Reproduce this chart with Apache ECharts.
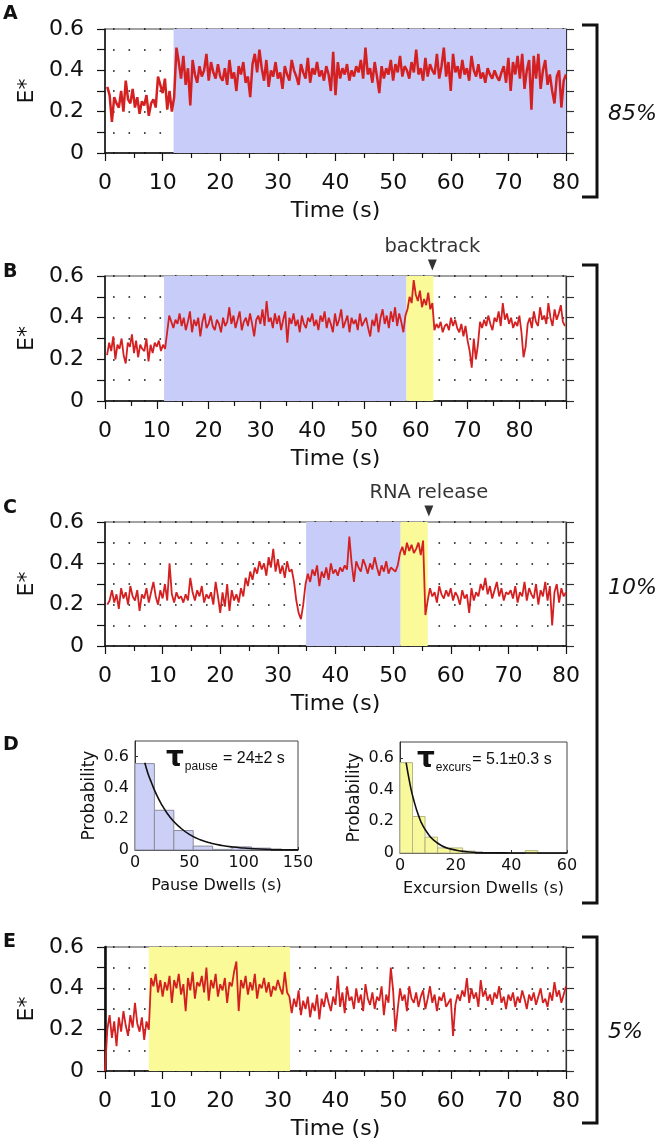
<!DOCTYPE html>
<html><head><meta charset="utf-8">
<script src="https://cdn.jsdelivr.net/npm/echarts@6/dist/echarts.min.js"></script>
<style>html,body{margin:0;padding:0;background:#fff}#c{width:660px;height:1146px}</style>
</head><body><div id="c"></div>
<script>
// ---------- DATA ----------
const timeStep = 0.4;
const aStart = 0.4, bStart = 0.4, cStart = 0.4, eStart = 0;
const aValues = [
.32,.28,.15,.27,.24,.22,.30,.20,.35,.26,.24,.31,.22,.27,.19,.25,.23,.28,.18,.24,.26,.22,.37,.33,.29,
.36,.21,.30,.20,.27,.51,.44,.36,.47,.33,.41,.23,.45,.38,.34,.42,.37,.40,.48,.35,.44,.39,.36,.43,.37,
.35,.41,.33,.45,.36,.39,.30,.42,.38,.44,.34,.37,.27,.43,.48,.39,.50,.41,.35,.45,.32,.40,.37,.44,.36,
.39,.31,.42,.38,.35,.45,.40,.37,.33,.43,.39,.36,.46,.34,.41,.38,.44,.37,.40,.35,.42,.38,.30,.49,.28,
.44,.36,.41,.38,.43,.35,.40,.37,.42,.39,.45,.36,.51,.38,.41,.34,.44,.37,.29,.42,.36,.41,.38,.45,.35,
.43,.39,.47,.37,.42,.40,.36,.44,.39,.50,.38,.41,.35,.46,.37,.43,.40,.38,.48,.36,.42,.51,.37,.44,.30,
.48,.39,.42,.36,.45,.38,.41,.35,.47,.40,.37,.43,.36,.39,.34,.41,.38,.36,.40,.37,.35,.39,.42,.34,.46,
.30,.44,.38,.47,.36,.48,.31,.40,.45,.21,.47,.36,.48,.31,.40,.45,.33,.38,.30,.24,.37,.40,.22,.35,.38];
const bValues = [
.22,.28,.24,.31,.20,.27,.25,.30,.22,.18,.28,.26,.32,.23,.29,.21,.27,.25,.24,.30,.19,.27,.23,.28,.26,
.29,.24,.27,.25,.33,.41,.38,.35,.39,.37,.42,.36,.40,.34,.38,.43,.33,.39,.36,.40,.31,.38,.42,.35,.37,
.41,.36,.34,.39,.37,.33,.40,.36,.38,.45,.37,.41,.35,.39,.43,.34,.38,.40,.36,.42,.37,.31,.39,.41,.37,
.44,.36,.48,.38,.40,.35,.42,.37,.41,.34,.39,.43,.28,.40,.37,.42,.36,.39,.33,.41,.37,.35,.40,.38,.42,
.36,.39,.34,.41,.38,.43,.35,.40,.37,.33,.42,.36,.39,.44,.35,.38,.41,.33,.40,.37,.39,.34,.42,.36,.38,
.40,.35,.31,.39,.36,.42,.33,.40,.44,.37,.41,.35,.43,.38,.45,.36,.42,.38,.33,.41,.44,.50,.47,.58,.51,
.48,.53,.45,.49,.46,.52,.44,.47,.34,.37,.35,.38,.33,.36,.37,.34,.40,.36,.39,.35,.33,.37,.31,.36,.29,
.24,.16,.30,.20,.27,.38,.35,.39,.36,.41,.37,.34,.40,.38,.43,.36,.47,.39,.42,.37,.40,.35,.38,.36,.41,
.33,.21,.26,.37,.40,.35,.43,.38,.36,.45,.39,.41,.37,.47,.40,.36,.44,.39,.42,.46,.38,.36];
const cValues = [
.20,.22,.27,.21,.25,.18,.28,.23,.26,.20,.29,.24,.22,.27,.17,.25,.23,.28,.21,.26,.31,.24,.20,.27,.23,
.30,.22,.40,.25,.21,.26,.23,.24,.21,.25,.22,.33,.26,.22,.27,.24,.29,.21,.25,.23,.26,.20,.31,.24,.16,
.26,.19,.30,.17,.27,.22,.25,.21,.28,.24,.33,.29,.36,.32,.38,.35,.41,.37,.40,.34,.43,.38,.47,.36,.42,
.35,.39,.33,.41,.36,.37,.31,.22,.16,.13,.20,.30,.35,.31,.37,.34,.39,.29,.36,.33,.38,.32,.40,.35,.37,
.34,.38,.36,.39,.37,.53,.40,.31,.41,.38,.36,.42,.39,.35,.40,.37,.43,.38,.34,.39,.36,.41,.35,.38,.37,
.36,.39,.45,.48,.44,.50,.46,.49,.45,.47,.50,.44,.51,.15,.22,.28,.24,.26,.21,.29,.25,.23,.27,.24,.28,
.22,.26,.24,.20,.27,.23,.25,.16,.28,.22,.26,.24,.30,.27,.33,.25,.29,.23,.27,.31,.24,.28,.22,.26,.25,
.27,.23,.29,.21,.26,.24,.31,.22,.28,.25,.23,.30,.20,.27,.24,.31,.22,.29,.10,.26,.30,.21,.28,.24,.26];
const eValues = [0,
.20,.27,.16,.24,.12,.26,.19,.29,.22,.17,.27,.21,.33,.23,.19,.26,.15,.24,.20,.45,.41,.47,.38,.44,.36,
.43,.39,.46,.33,.44,.40,.47,.37,.42,.29,.45,.39,.48,.35,.43,.41,.46,.38,.50,.34,.44,.40,.47,.36,.42,
.39,.45,.33,.43,.41,.48,.53,.29,.44,.40,.46,.37,.43,.39,.47,.35,.42,.40,.45,.38,.43,.36,.41,.39,.44,
.40,.37,.48,.38,.36,.28,.35,.31,.39,.27,.34,.30,.36,.26,.33,.29,.37,.25,.35,.31,.38,.33,.29,.36,.32,
.46,.31,.38,.28,.41,.34,.36,.30,.40,.33,.37,.29,.42,.35,.32,.38,.30,.36,.34,.41,.27,.37,.33,.50,.39,
.19,.30,.40,.34,.37,.29,.41,.35,.33,.38,.31,.36,.39,.30,.35,.41,.33,.37,.29,.36,.34,.38,.31,.33,.35,
.17,.32,.37,.34,.39,.36,.45,.33,.40,.35,.38,.31,.44,.36,.39,.34,.37,.32,.38,.35,.41,.33,.36,.30,.37,
.34,.38,.31,.36,.33,.39,.35,.30,.37,.34,.38,.32,.36,.40,.33,.35,.31,.38,.34,.43,.36,.39,.33,.37,.41];

// shaded intervals (s)
const aPause = [11.9, 80];
const bPause = [11.4, 58.2];
const bExcursion = [58.2, 63.4];
const cPause = [34.9, 51.3];
const cExcursion = [51.3, 56.0];
const eExcursion = [7.6, 32.1];
const backtrackAt = 63.2;
const rnaReleaseAt = 56.2;

// histograms
const pauseEdges = [0, 17.86, 35.71, 53.57, 71.43, 89.29, 107.14, 125];
const pauseProb = [0.555, 0.255, 0.125, 0.025, 0.004, 0.02, 0.012];
const pauseFitX = [9, 12, 15, 20, 25, 30, 35, 40, 50, 60, 70, 80, 90, 100, 110, 120, 135, 150];
const pauseFitY = [.56, .49, .435, .352, .286, .232, .188, .153, .10, .066, .044, .029, .019, .013, .008, .005, .003, .002];
const excursEdges = [0, 4.5, 9, 13.5, 18, 22.5, 27, 31.5, 36, 40.5, 45, 49.5];
const excursProb = [0.57, 0.23, 0.10, 0.032, 0.032, 0.012, 0, 0, 0, 0, 0.015];
const excursFitX = [2.2, 3, 4, 5, 6, 7, 8, 10, 12, 15, 18, 22, 26, 30, 40, 50, 60];
const excursFitY = [.57, .49, .40, .33, .27, .22, .18, .123, .083, .046, .026, .012, .005, .002, .0004, 0, 0];

const xTicksMain = [0, 10, 20, 30, 40, 50, 60, 70, 80];

// ---------- BUILD ----------
const FONT = "'DejaVu Sans', 'Liberation Sans', sans-serif";
const FONT2 = "'Liberation Sans', Arial, sans-serif";
const RED = '#d42020', BLUE = '#c7cdf8', YELLOW = '#fafa98';
const pairs = (start, vals) => vals.map((v, i) => [+(start + i * timeStep).toFixed(2), v]);
const yFmt = v => { const k = Math.round(v * 10); if (k % 2 !== 0) return ''; return k === 0 ? '0' : (k / 10).toFixed(1); };
const xFmt = v => (Math.abs(v % 10) < 1e-6 && xTicksMain.indexOf(Math.round(v)) >= 0) ? String(Math.round(v)) : '';

const grids = [
  {left: 105, top: 29, width: 461, height: 124},
  {left: 105, top: 276, width: 461, height: 125},
  {left: 105, top: 522, width: 461, height: 124},
  {left: 135, top: 741, width: 163, height: 109},
  {left: 400, top: 742, width: 167, height: 111},
  {left: 105, top: 947, width: 461, height: 124}
].map(g => Object.assign({show: true, borderColor: '#444', borderWidth: 1, backgroundColor: 'transparent'}, g));

function mainX(gi, max) {
  return {gridIndex: gi, type: 'value', min: 0, max: max, interval: 10,
    name: 'Time (s)', nameLocation: 'middle', nameGap: 47,
    nameTextStyle: {fontFamily: FONT, fontSize: 22, color: '#111'},
    axisLine: {lineStyle: {color: '#111', width: 1.5}},
    axisTick: {show: true, length: 8, lineStyle: {color: '#111', width: 1.2}},
    minorTick: {show: true, splitNumber: 2, length: 5, lineStyle: {color: '#111', width: 1.2}},
    axisLabel: {fontFamily: FONT, fontSize: 22, color: '#111', margin: 19, formatter: xFmt, showMaxLabel: true},
    splitLine: {show: false}};
}
function mainYL(gi, lw) {
  return {gridIndex: gi, type: 'value', min: 0, max: 0.6, interval: 0.1, position: 'left',
    name: 'E*', nameLocation: 'middle', nameGap: 63,
    nameTextStyle: {fontFamily: FONT, fontSize: 22, color: '#111'},
    axisLine: {show: true, lineStyle: {color: '#111', width: lw || 1.5}},
    axisTick: {show: true, length: 8, lineStyle: {color: '#111', width: 1.2}},
    axisLabel: {fontFamily: FONT, fontSize: 22, color: '#111', margin: 21, formatter: yFmt},
    splitLine: {show: true, lineStyle: {color: '#111', width: 1.6, type: [1.6, 13.9], dashOffset: 7.5}}};
}
function mainYR(gi) {
  return {gridIndex: gi, type: 'value', min: 0, max: 0.6, interval: 0.1, position: 'right',
    axisLine: {show: true, lineStyle: {color: '#333', width: 1.2}},
    axisTick: {show: true, length: 8, lineStyle: {color: '#333', width: 1.2}},
    axisLabel: {show: false}, splitLine: {show: false}};
}
function histX(gi, max, interval, name) {
  return {gridIndex: gi, type: 'value', min: 0, max: max, interval: interval,
    name: name, nameLocation: 'middle', nameGap: 28,
    nameTextStyle: {fontFamily: FONT, fontSize: 16, color: '#111'},
    axisLine: {lineStyle: {color: '#333', width: 1}},
    axisTick: {show: true, inside: true, length: 3, lineStyle: {color: '#333'}},
    axisLabel: {fontFamily: FONT, fontSize: 16, color: '#111', margin: 5},
    splitLine: {show: false}};
}
function histY(gi) {
  return {gridIndex: gi, type: 'value', min: 0, max: 0.7, interval: 0.1,
    name: 'Probability', nameLocation: 'middle', nameGap: 37,
    nameTextStyle: {fontFamily: FONT, fontSize: 17, color: '#111'},
    axisLine: {show: true, lineStyle: {color: '#333', width: 1}},
    axisTick: {show: true, inside: true, length: 3, lineStyle: {color: '#333'}},
    axisLabel: {fontFamily: FONT, fontSize: 16, color: '#111', margin: 6, formatter: yFmt, showMaxLabel: false},
    splitLine: {show: false}};
}

const xAxes = [mainX(0, 80), mainX(1, 89), mainX(2, 80),
  histX(3, 150, 50, 'Pause Dwells (s)'), histX(4, 60, 20, 'Excursion Dwells (s)'), mainX(5, 80)];
const yAxes = [mainYL(0), mainYL(1), mainYL(2), histY(3), histY(4), mainYL(5, 2.6),
  mainYR(0), mainYR(1), mainYR(2), mainYR(5)];

function shadeSeries(axisIdx, items) {
  return {type: 'custom', xAxisIndex: axisIdx, yAxisIndex: axisIdx, z: 1, silent: true,
    encode: {x: [0, 1], y: [2, 3]},
    data: items.map(it => ({value: [it[0][0], it[0][1], 0, 0.6], itemStyle: {color: it[1]}})),
    renderItem: (params, api) => {
      const p0 = api.coord([api.value(0), api.value(3)]);
      const p1 = api.coord([api.value(1), api.value(2)]);
      return {type: 'rect', shape: {x: p0[0], y: p0[1], width: p1[0] - p0[0], height: p1[1] - p0[1]},
        style: {fill: api.visual('color')}};
    }};
}
function traceSeries(axisIdx, start, vals, w) {
  return {type: 'line', xAxisIndex: axisIdx, yAxisIndex: axisIdx, z: 4, data: pairs(start, vals),
    showSymbol: false, symbol: 'none', lineStyle: {color: RED, width: w}, clip: true};
}
function histSeries(axisIdx, edges, probs, fill, stroke) {
  const items = [];
  probs.forEach((p, i) => { if (p > 0) items.push([edges[i], edges[i + 1], p]); });
  return {type: 'custom', xAxisIndex: axisIdx, yAxisIndex: axisIdx, z: 2, silent: true,
    encode: {x: [0, 1], y: 2}, data: items,
    renderItem: (params, api) => {
      const p0 = api.coord([api.value(0), api.value(2)]);
      const p1 = api.coord([api.value(1), 0]);
      return {type: 'rect', shape: {x: p0[0], y: p0[1], width: p1[0] - p0[0], height: p1[1] - p0[1]},
        style: {fill: fill, stroke: stroke, lineWidth: 1}};
    }};
}
function fitSeries(axisIdx, xs, ys) {
  return {type: 'line', xAxisIndex: axisIdx, yAxisIndex: axisIdx, z: 5, smooth: true, showSymbol: false,
    symbol: 'none', data: xs.map((x, i) => [x, ys[i]]), lineStyle: {color: '#111', width: 1.6}};
}
function arrowSeries(axisIdx, x, text) {
  return {type: 'scatter', xAxisIndex: axisIdx, yAxisIndex: axisIdx, z: 6, clip: false, silent: true,
    data: [[x, 0.6]], symbol: 'triangle', symbolRotate: 180, symbolSize: [9, 11], symbolOffset: [0, -11],
    itemStyle: {color: '#000'},
    label: {show: true, position: 'top', distance: 3, formatter: text,
      fontFamily: FONT, fontSize: 19.5, color: '#000'}};
}

const series = [
  shadeSeries(0, [[aPause, BLUE]]),
  shadeSeries(1, [[bPause, BLUE], [bExcursion, YELLOW]]),
  shadeSeries(2, [[cPause, BLUE], [cExcursion, YELLOW]]),
  shadeSeries(5, [[eExcursion, YELLOW]]),
  traceSeries(0, aStart, aValues, 2.5),
  traceSeries(1, bStart, bValues, 1.8),
  traceSeries(2, cStart, cValues, 1.8),
  traceSeries(5, eStart, eValues, 1.8),
  arrowSeries(1, backtrackAt, 'backtrack'),
  arrowSeries(2, rnaReleaseAt, 'RNA release'),
  histSeries(3, pauseEdges, pauseProb, '#ccd0f7', '#8c8c9c'),
  histSeries(4, excursEdges, excursProb, '#f8f89c', '#b4b488'),
  fitSeries(3, pauseFitX, pauseFitY),
  fitSeries(4, excursFitX, excursFitY)
];

function letter(t, x, y) {
  return {type: 'text', x: x, y: y, style: {text: t, font: 'bold 19px ' + FONT, fill: '#111', align: 'left', verticalAlign: 'middle'}};
}
function bracket(y0, y1) {
  return {type: 'polyline', shape: {points: [[582, y0], [597, y0], [597, y1], [582, y1]]},
    style: {stroke: '#111', lineWidth: 3, fill: null}};
}
function pct(t, y) {
  return {type: 'text', x: 608, y: y, style: {text: t, font: 'italic 22px ' + FONT, fill: '#111', align: 'left', verticalAlign: 'middle'}};
}
function tau(x, y, sub, rest) {
  return {type: 'text', x: x, y: y, style: {text: '{t|τ}{s|' + sub + '}{n|' + rest + '}', align: 'left', verticalAlign: 'middle',
    rich: {t: {font: 'bold 28px ' + FONT, fill: '#111', verticalAlign: 'middle'},
      s: {font: '12px ' + FONT2, fill: '#111', verticalAlign: 'bottom', padding: [0, 1, 0, 1]},
      n: {font: '16px ' + FONT2, fill: '#111', verticalAlign: 'middle'}}}};
}

const option = {
  animation: false,
  backgroundColor: '#fff',
  grid: grids,
  xAxis: xAxes,
  yAxis: yAxes,
  series: series,
  graphic: [
    letter('A', 3, 14), letter('B', 3, 272), letter('C', 3, 508), letter('D', 3, 745), letter('E', 3, 942),
    bracket(25, 197), bracket(265, 903), bracket(937, 1123),
    pct('85%', 114), pct('10%', 588), pct('5%', 1032),
    tau(166, 759, 'pause', ' = 24±2 s'), tau(417, 760, 'excurs', '= 5.1±0.3 s')
  ]
};
const chart = echarts.init(document.getElementById('c'), null, {renderer: 'canvas'});
chart.setOption(option);
</script></body></html>
